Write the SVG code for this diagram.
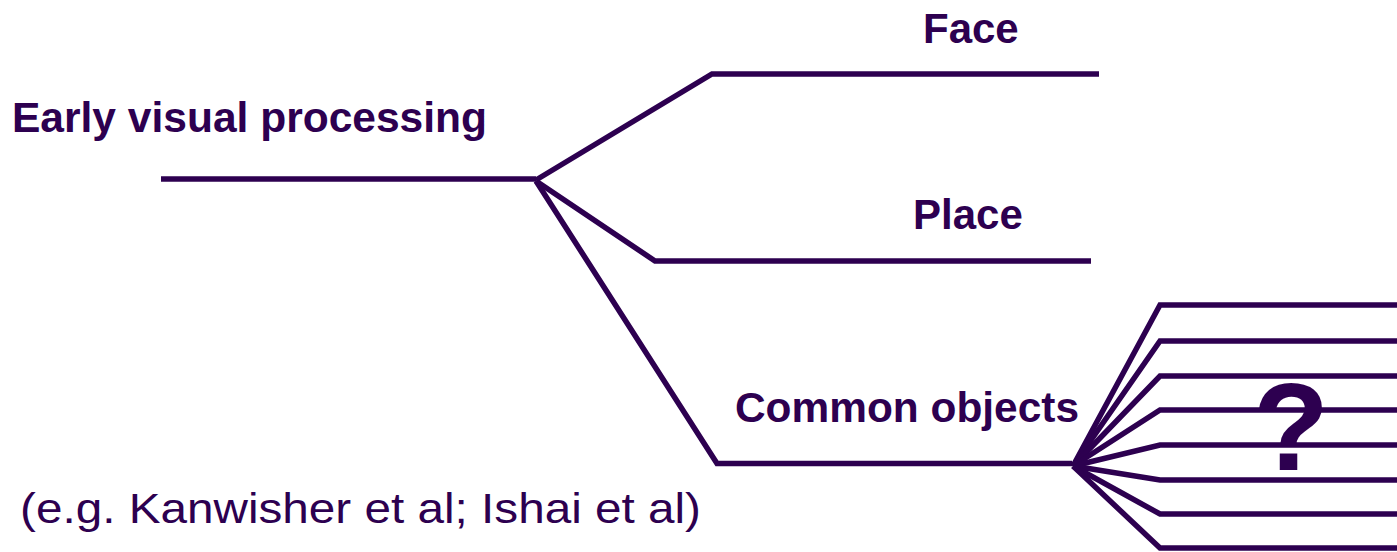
<svg xmlns="http://www.w3.org/2000/svg" width="1397" height="552" viewBox="0 0 1397 552">
  <style>
    .ln { fill: none; stroke: #2d0050; stroke-width: 5.5; stroke-linejoin: miter; stroke-linecap: butt; }
    .lbl { font-family: "Liberation Sans", Arial, sans-serif; font-weight: bold; font-size: 42px; fill: #2d0050; }
    .note { font-family: "Liberation Sans", Arial, sans-serif; font-size: 43px; fill: #2d0050; }
  </style>
  <rect width="1397" height="552" fill="#ffffff"/>

  <g id="connectors">
    <!-- trunk and three branches -->
    <polyline class="ln" points="161,179 536,179"/>
    <polyline class="ln" points="536,180 712,74 1099,74"/>
    <polyline class="ln" points="536,181 655,261 1091,261"/>
    <polyline class="ln" points="536,181 717,463.5 1072,463.5"/>
    <!-- fan of sub-branches -->
    <g id="fan">
      <polyline class="ln" points="1073,466 1160,305 1397,305"/>
      <polyline class="ln" points="1073,466 1160,341 1397,341"/>
      <polyline class="ln" points="1073,466 1160,376 1397,376"/>
      <polyline class="ln" points="1073,466 1160,410 1397,410"/>
      <polyline class="ln" points="1073,466 1160,445 1397,445"/>
      <polyline class="ln" points="1073,466 1160,480 1397,480"/>
      <polyline class="ln" points="1073,466 1160,514 1397,514"/>
      <polyline class="ln" points="1073,466 1160,548 1397,548"/>
    </g>
  </g>

  <g id="early-visual">
    <text class="lbl" x="12" y="132" textLength="475" lengthAdjust="spacingAndGlyphs">Early visual processing</text>
  </g>
  <g id="face">
    <text class="lbl" x="923" y="43">Face</text>
  </g>
  <g id="place">
    <text class="lbl" x="913" y="229">Place</text>
  </g>
  <g id="common-objects">
    <text class="lbl" x="735" y="422" textLength="344" lengthAdjust="spacingAndGlyphs">Common objects</text>
  </g>
  <g id="unknown">
    <text class="lbl" x="1291" y="470" text-anchor="middle" style="font-size:124px">?</text>
  </g>
  <g id="citation">
    <text class="note" x="20" y="523" textLength="681" lengthAdjust="spacingAndGlyphs">(e.g. Kanwisher et al; Ishai et al)</text>
  </g>
</svg>
